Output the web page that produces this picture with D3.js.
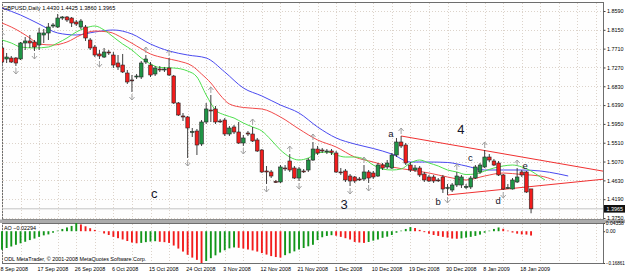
<!DOCTYPE html>
<html>
<head>
<meta charset="utf-8">
<script src="https://cdn.jsdelivr.net/npm/d3@7"></script>
<style>
  body { margin:0; background:#ffffff; }
  svg { display:block; font-family:"Liberation Sans", Arial, sans-serif; }
</style>
</head>
<body>
<svg id="drawing_region"></svg>
<script>
// GBPUSD daily, 8 Sep 2008 .. 20 Jan 2009 (one entry per bar)
const opens = [
1.7725,1.7468,1.7491,1.7491,1.7468,1.7842,1.7889,1.7865,1.7795,1.8029,
1.8076,1.8239,1.8216,1.8426,1.8450,1.8426,1.8333,1.8216,1.8216,1.7912,
1.7748,1.7585,1.7514,1.7631,1.7561,1.7374,1.7327,1.7140,1.6977,1.7047,
1.7047,1.7398,1.7327,1.7117,1.7234,1.7211,1.7257,1.7070,1.6439,1.6135,
1.6112,1.5761,1.5784,1.5480,1.5995,1.6275,1.6299,1.6018,1.6041,1.5714,
1.5878,1.5761,1.5504,1.5737,1.5714,1.5574,1.5340,1.4849,1.4826,1.4604,
1.4592,1.4919,1.5083,1.4919,1.4685,1.4849,1.4872,1.5106,1.5363,1.5340,
1.5293,1.5317,1.5270,1.4826,1.4849,1.4732,1.4709,1.4662,1.4662,1.4826,
1.4802,1.4732,1.4989,1.4943,1.4919,1.5223,1.5527,1.5457,1.4989,1.4872,
1.4919,1.4779,1.4709,1.4709,1.4639,1.4709,1.4452,1.4405,1.4522,1.4522,
1.4475,1.4475,1.4685,1.4826,1.4943,1.5176,1.5083,1.5036,1.4756,1.4452,
1.4428,1.4592,1.4826,1.4826,1.4430];
const highs = [
1.7912,1.7608,1.7538,1.7514,1.7865,1.7982,1.8029,1.7912,1.8193,1.8169,
1.8309,1.8309,1.8520,1.8473,1.8473,1.8450,1.8380,1.8403,1.8263,1.7959,
1.7795,1.7678,1.7725,1.7678,1.7631,1.7561,1.7585,1.7211,1.7094,1.7117,
1.7421,1.7561,1.7398,1.7304,1.7304,1.7281,1.7491,1.7094,1.6462,1.6205,
1.6135,1.5854,1.5831,1.6041,1.6439,1.6626,1.6369,1.6065,1.6088,1.5901,
1.5925,1.5995,1.5691,1.5784,1.5878,1.5621,1.5363,1.4966,1.4872,1.4639,
1.4989,1.4989,1.5246,1.4966,1.4943,1.4896,1.5153,1.5527,1.5434,1.5387,
1.5363,1.5363,1.5317,1.4919,1.4896,1.4779,1.4732,1.4709,1.4989,1.4872,
1.4849,1.5036,1.5036,1.5106,1.5270,1.5621,1.5667,1.5504,1.5059,1.4989,
1.4966,1.4826,1.4756,1.4756,1.4685,1.4756,1.4545,1.4568,1.4826,1.4756,
1.4545,1.4732,1.4989,1.5036,1.5340,1.5246,1.5130,1.5083,1.4779,1.4545,
1.4685,1.4919,1.4872,1.4849,1.4425];
const lows = [
1.7351,1.7374,1.7374,1.7304,1.7444,1.7678,1.7725,1.7655,1.7678,1.7842,
1.7912,1.8193,1.8193,1.8380,1.8333,1.8216,1.8239,1.8169,1.7889,1.7678,
1.7514,1.7468,1.7491,1.7561,1.7257,1.7211,1.7140,1.6883,1.6696,1.7000,
1.7000,1.7351,1.7047,1.7070,1.7164,1.7164,1.7070,1.6416,1.6135,1.6018,
1.5153,1.5644,1.5223,1.5434,1.5948,1.5995,1.5948,1.5971,1.5667,1.5667,
1.5714,1.5480,1.5434,1.5667,1.5527,1.5293,1.4802,1.4545,1.4685,1.4568,
1.4568,1.4849,1.4826,1.4662,1.4615,1.4802,1.4826,1.5083,1.5223,1.5270,
1.5246,1.5223,1.4802,1.4756,1.4592,1.4498,1.4568,1.4615,1.4615,1.4568,
1.4662,1.4709,1.4872,1.4896,1.4896,1.5176,1.5387,1.4989,1.4826,1.4826,
1.4709,1.4592,1.4592,1.4568,1.4592,1.4335,1.4288,1.4358,1.4475,1.4452,
1.4428,1.4428,1.4662,1.4779,1.4919,1.5059,1.4966,1.4732,1.4405,1.4428,
1.4416,1.4568,1.4709,1.4335,1.3860];
const closes = [
1.7398,1.7514,1.7398,1.7374,1.7842,1.7889,1.7842,1.7748,1.8076,1.8076,
1.8216,1.8263,1.8426,1.8450,1.8380,1.8309,1.8286,1.8356,1.7959,1.7725,
1.7561,1.7538,1.7631,1.7608,1.7327,1.7281,1.7164,1.6930,1.6965,1.7070,
1.7374,1.7468,1.7094,1.7257,1.7211,1.7234,1.7094,1.6439,1.6158,1.6112,
1.5854,1.5772,1.5457,1.5995,1.6299,1.6252,1.5995,1.6006,1.5714,1.5854,
1.5761,1.5504,1.5621,1.5714,1.5550,1.5317,1.4826,1.4826,1.4732,1.4592,
1.4943,1.4907,1.4872,1.4685,1.4896,1.4837,1.5106,1.5363,1.5270,1.5317,
1.5317,1.5282,1.4826,1.4814,1.4639,1.4615,1.4615,1.4650,1.4826,1.4685,
1.4709,1.4989,1.4919,1.5036,1.5223,1.5527,1.5434,1.5036,1.4872,1.4919,
1.4756,1.4639,1.4615,1.4615,1.4627,1.4428,1.4463,1.4522,1.4732,1.4709,
1.4487,1.4685,1.4943,1.4989,1.5176,1.5106,1.4989,1.4756,1.4428,1.4463,
1.4639,1.4709,1.4756,1.4358,1.3965];

// Awesome Oscillator, one value per bar
const ao = [
-0.098,-0.089,-0.081,-0.072,-0.064,-0.056,-0.047,-0.039,-0.030,-0.022,
-0.017,-0.008,0.003,0.012,0.020,0.028,0.04358,0.036,0.026,0.016,
0.007,0.001,-0.012,-0.020,-0.030,-0.037,-0.044,-0.052,-0.060,-0.064,
-0.062,-0.058,-0.055,-0.053,-0.056,-0.058,-0.062,-0.076,-0.092,-0.108,
-0.125,-0.140,-0.152,-0.16861,-0.158,-0.143,-0.128,-0.113,-0.101,-0.091,
-0.086,-0.088,-0.092,-0.097,-0.102,-0.108,-0.116,-0.124,-0.132,-0.137,
-0.140,-0.127,-0.117,-0.107,-0.097,-0.089,-0.080,-0.072,-0.047,-0.032,
-0.025,-0.021,-0.024,-0.030,-0.037,-0.044,-0.057,-0.060,-0.062,-0.057,
-0.050,-0.044,-0.035,-0.029,-0.020,-0.008,0.003,0.012,0.022,0.017,
0.007,-0.005,-0.013,-0.020,-0.025,-0.030,-0.034,-0.039,-0.040,-0.038,
-0.034,-0.030,-0.025,-0.018,-0.008,0.003,0.012,0.020,0.013,0.003,
-0.007,-0.013,-0.017,-0.018,-0.02294];

// Alligator lines at sample bars
const jawBars  = [0,4,8,12,16,20,24,28,32,36,40,44,48,52,56,60,64,68,72,76,80,84,88,92,96,100,104,108,112,116,120,122];
const jawVals  = [1.8660,1.8496,1.8286,1.8076,1.8029,1.8099,1.8146,1.8052,1.7818,1.7655,1.7561,1.7491,1.7164,1.6790,1.6603,1.6392,1.6205,1.5878,1.5621,1.5480,1.5375,1.5246,1.5059,1.5059,1.5048,1.4966,1.4872,1.4872,1.4872,1.4849,1.4779,1.4732];
const teethBars = [0,2,4,6,8,11,14,17,20,23,26,29,32,35,38,41,43,45,47,49,52,56,60,64,68,72,76,80,84,88,92,96,100,104,108,112,116,119];
const teethVals = [1.8309,1.8216,1.8099,1.7959,1.7818,1.7795,1.7865,1.8029,1.8122,1.8099,1.7959,1.7772,1.7585,1.7491,1.7421,1.7304,1.7117,1.6907,1.6626,1.6416,1.6334,1.6299,1.6112,1.5831,1.5574,1.5410,1.5176,1.5059,1.4943,1.4872,1.4802,1.4709,1.4639,1.4732,1.4802,1.4767,1.4732,1.4639];
const lipsBars = [0,2,4,7,10,12,14,16,18,20,22,24,26,28,30,32,34,37,40,42,44,46,48,50,52,54,56,58,60,62,64,66,68,70,72,74,76,78,80,82,84,86,88,90,92,94,96,98,100,102,104,106,108,110,112,114,116,117];
const lipsVals = [1.7912,1.7842,1.7748,1.7725,1.7748,1.7842,1.7959,1.8099,1.8193,1.8239,1.8146,1.7982,1.7818,1.7678,1.7491,1.7351,1.7269,1.7257,1.7187,1.7047,1.6626,1.6275,1.6158,1.6088,1.5971,1.5878,1.5784,1.5574,1.5340,1.5176,1.5106,1.5153,1.5270,1.5293,1.5223,1.5176,1.5176,1.5130,1.4989,1.4896,1.4872,1.4896,1.5036,1.5106,1.5036,1.4966,1.4872,1.4826,1.4767,1.4779,1.4849,1.4919,1.4966,1.4989,1.4943,1.4849,1.4709,1.4639];

const fractalUp   = [0,31,36,45,54,62,67,78,86,98,104,111];
const fractalDown = [0,3,7,21,28,40,52,57,64,75,79,96,108];

// hand drawn triangle lines (bar, price)
const trendBars   = [[86,130],[96,130]];
const trendPrices = [[1.5667,1.4837],[1.4288,1.4662]];

const labelText  = ['a','4','c','b','d','e','3','c'];
const labelBars  = [83.8,98.9,100.9,94,106.9,112.7,73.7,32.8];
const labelPrice = [1.5644,1.5714,1.5083,1.4054,1.4078,1.4896,1.3961,1.4218];

const priceTicks = [1.8590,1.8150,1.7710,1.7270,1.6830,1.6390,1.5950,1.5510,1.5070,1.4630,1.4190,1.3750];
const aoTicks = [0.04358,0,-0.16861];
const tickBars = [0,8,16,24,32,40,48,56,64,72,80,88,96,104,112];
const tickLabels = ['8 Sep 2008','17 Sep 2008','26 Sep 2008','6 Oct 2008','15 Oct 2008','24 Oct 2008','3 Nov 2008','12 Nov 2008','21 Nov 2008','1 Dec 2008','10 Dec 2008','19 Dec 2008','30 Dec 2008','8 Jan 2009','18 Jan 2009'];

class AlligatorChart {

    constructor( config ) {
        this.config = config;
        this.init();
    }

    init() {
        let self = this;
        let c = self.config;

        self.svg = d3.select( c.parent )
            .attr('width', c.width)
            .attr('height', c.height);

        self.xscale = d3.scaleLinear()
            .domain([-0.43, 129.5])
            .range([0, c.plot.right]);

        self.yscale = d3.scaleLinear()
            .domain([1.3750, 1.8590])
            .range([218, 11]);

        self.aoscale = d3.scaleLinear()
            .domain([-0.16861, 0.04358])
            .range([c.ao.bottom, c.ao.top]);

        self.svg.append('defs').append('clipPath')
            .attr('id', 'clip_main')
            .append('rect')
            .attr('x', c.plot.left).attr('y', c.plot.top)
            .attr('width', c.plot.right - c.plot.left)
            .attr('height', c.plot.bottom - c.plot.top);
    }

    render() {
        let self = this;
        let c = self.config;
        let x = self.xscale, y = self.yscale, ya = self.aoscale;
        const bars = d3.range(opens.length);
        const gridBars = d3.range(0, 130, 4);

        // panels
        self.svg.append('rect')
            .attr('x', c.plot.left + 0.5).attr('y', c.plot.top + 0.5)
            .attr('width', c.plot.right - c.plot.left).attr('height', c.plot.bottom - c.plot.top)
            .attr('fill', '#fefefe').attr('stroke', '#6e6e6e');
        self.svg.append('rect')
            .attr('x', 0).attr('y', 219.5)
            .attr('width', c.width).attr('height', 3.5)
            .attr('fill', '#ababab');
        self.svg.append('rect')
            .attr('x', c.plot.left + 0.5).attr('y', c.ao.top + 0.5)
            .attr('width', c.plot.right - c.plot.left).attr('height', c.ao.bottom - c.ao.top)
            .attr('fill', '#fefefe').attr('stroke', '#6e6e6e');

        // grid
        const grid = self.svg.append('g')
            .attr('stroke', '#dcd3ca').attr('stroke-dasharray', '1,2');
        grid.selectAll('.hg').data(priceTicks).enter().append('line')
            .attr('x1', c.plot.left + 1).attr('x2', c.plot.right)
            .attr('y1', d => Math.round(y(d)) + 0.5).attr('y2', d => Math.round(y(d)) + 0.5);
        grid.selectAll('.vg').data(gridBars).enter().append('line')
            .attr('x1', d => Math.round(x(d)) + 0.5).attr('x2', d => Math.round(x(d)) + 0.5)
            .attr('y1', c.plot.top + 1).attr('y2', c.plot.bottom);
        grid.selectAll('.vga').data(gridBars).enter().append('line')
            .attr('x1', d => Math.round(x(d)) + 0.5).attr('x2', d => Math.round(x(d)) + 0.5)
            .attr('y1', c.ao.top + 1).attr('y2', c.ao.bottom);

        const main = self.svg.append('g').attr('clip-path', 'url(#clip_main)');

        // bid line
        main.append('line')
            .attr('x1', c.plot.left).attr('x2', c.plot.right)
            .attr('y1', y(closes[closes.length - 1])).attr('y2', y(closes[closes.length - 1]))
            .attr('stroke', '#c4c4c4');

        // alligator
        const line = d3.line()
            .x(d => x(d[0])).y(d => y(d[1]))
            .curve(d3.curveMonotoneX);
        [[jawBars, jawVals, '#4a4af0'], [teethBars, teethVals, '#f24a4a'], [lipsBars, lipsVals, '#4ee04e']]
            .forEach(s => {
                main.append('path')
                    .datum(d3.zip(s[0], s[1]))
                    .attr('d', line)
                    .attr('fill', 'none')
                    .attr('stroke', s[2])
                    .attr('stroke-width', 1);
            });

        // trend lines
        trendBars.forEach((b, k) => {
            main.append('path')
                .datum(d3.zip(b, trendPrices[k]))
                .attr('d', d3.line().x(d => x(d[0])).y(d => y(d[1])))
                .attr('stroke', '#f03030')
                .attr('fill', 'none');
        });

        // candles
        const candle = main.selectAll('.candle').data(bars).enter().append('g');
        candle.append('line')
            .attr('x1', i => x(i)).attr('x2', i => x(i))
            .attr('y1', i => y(highs[i])).attr('y2', i => y(lows[i]))
            .attr('stroke', '#2a2a2a').attr('stroke-width', 0.9);
        candle.append('rect')
            .attr('x', i => x(i) - 1.8)
            .attr('width', 3.6)
            .attr('y', i => y(Math.max(opens[i], closes[i])))
            .attr('height', i => Math.max(Math.abs(y(opens[i]) - y(closes[i])), 0.9))
            .attr('fill', i => closes[i] >= opens[i] ? '#1f9446' : '#f21c1c')
            .attr('stroke', '#262626').attr('stroke-width', 0.6);

        // fractals, thin grey arrows
        const upArrow = 'M-2.6,0 L0,-3 L2.6,0 M0,-3 L0,3';
        main.selectAll('.fu').data(fractalUp).enter().append('path')
            .attr('d', upArrow)
            .attr('transform', i => `translate(${x(i)},${y(highs[i]) - 5})`)
            .attr('fill', 'none').attr('stroke', '#9a9a9a').attr('stroke-width', 0.9);
        main.selectAll('.fd').data(fractalDown).enter().append('path')
            .attr('d', upArrow)
            .attr('transform', i => `translate(${x(i)},${y(lows[i]) + 5}) rotate(180)`)
            .attr('fill', 'none').attr('stroke', '#9a9a9a').attr('stroke-width', 0.9);

        // wave labels
        const big = [1, 6, 7];
        main.selectAll('.lbl').data(labelText).enter().append('text')
            .attr('x', (d, k) => x(labelBars[k]))
            .attr('y', (d, k) => y(labelPrice[k]))
            .attr('text-anchor', 'middle')
            .attr('font-size', (d, k) => big.includes(k) ? '13px' : '9.5px')
            .attr('fill', '#15152a')
            .text(d => d);

        // header
        const last = opens.length - 1;
        const f4 = d3.format('.4f');
        self.svg.append('text')
            .attr('x', 3).attr('y', 10)
            .attr('font-size', '5.6px')
            .text(`GBPUSD,Daily  ${f4(opens[last])} ${f4(highs[last])} ${f4(lows[last])} ${f4(closes[last])}`);

        // price axis
        const yaxis = d3.axisRight(y)
            .tickValues(priceTicks)
            .tickFormat(f4)
            .tickSize(2).tickPadding(1.5);
        const yg = self.svg.append('g')
            .attr('transform', `translate(${c.plot.right + 0.5},0)`)
            .call(yaxis);
        yg.select('.domain').remove();
        yg.selectAll('text').attr('font-size', '5.4px').attr('font-family', '"Liberation Sans", Arial, sans-serif');
        yg.selectAll('line').attr('stroke', '#444');

        // last price box
        self.svg.append('rect')
            .attr('x', c.plot.right + 1).attr('y', y(closes[last]) - 3.8)
            .attr('width', 22).attr('height', 7.6)
            .attr('fill', '#111');
        self.svg.append('text')
            .attr('x', c.plot.right + 3.5).attr('y', y(closes[last]) + 2)
            .attr('font-size', '5.4px').attr('fill', '#fff')
            .text(f4(closes[last]));

        // AO histogram
        self.svg.append('g').selectAll('rect').data(bars).enter().append('rect')
            .attr('x', i => x(i) - 0.95)
            .attr('width', 1.9)
            .attr('y', i => Math.min(ya(0), ya(ao[i])))
            .attr('height', i => Math.abs(ya(ao[i]) - ya(0)))
            .attr('fill', i => (i === 0 || ao[i] > ao[i - 1]) ? '#12961a' : '#f21c1c');

        const aoaxis = d3.axisRight(ya)
            .tickValues(aoTicks)
            .tickFormat(d => d === 0 ? '0.00' : d3.format('.5f')(d))
            .tickSize(1.5).tickPadding(0.8);
        const ag = self.svg.append('g')
            .attr('transform', `translate(${c.plot.right + 0.5},0)`)
            .call(aoaxis);
        ag.select('.domain').remove();
        ag.selectAll('text')
            .attr('font-size', d => d < 0 ? '4.5px' : '5px')
            .attr('font-family', '"Liberation Sans", Arial, sans-serif');
        ag.selectAll('line').attr('stroke', '#444');

        self.svg.append('text')
            .attr('x', 4).attr('y', 229.5)
            .attr('font-size', '5.4px')
            .text('AO ' + d3.format('.5f')(ao[last]));
        self.svg.append('text')
            .attr('x', 4).attr('y', 261)
            .attr('font-size', '5.4px')
            .text('ODL MetaTrader, © 2001-2008 MetaQuotes Software Corp.');

        // date axis
        const xaxis = d3.axisBottom(x)
            .tickValues(tickBars)
            .tickFormat((d, k) => tickLabels[k])
            .tickSize(0).tickPadding(4);
        const xg = self.svg.append('g')
            .attr('transform', `translate(0,${c.ao.bottom + 0.5})`)
            .call(xaxis);
        xg.select('.domain').remove();
        xg.selectAll('text')
            .attr('text-anchor', 'start')
            .attr('dx', '-2')
            .attr('font-size', '5.4px')
            .attr('font-family', '"Liberation Sans", Arial, sans-serif');
    }
}

const config = {
    parent: '#drawing_region',
    width: 625,
    height: 275,
    plot: {left: 2, right: 603, top: 2, bottom: 219},
    ao: {top: 223, bottom: 263}
};

const chart = new AlligatorChart( config );
chart.render();
</script>
</body>
</html>
